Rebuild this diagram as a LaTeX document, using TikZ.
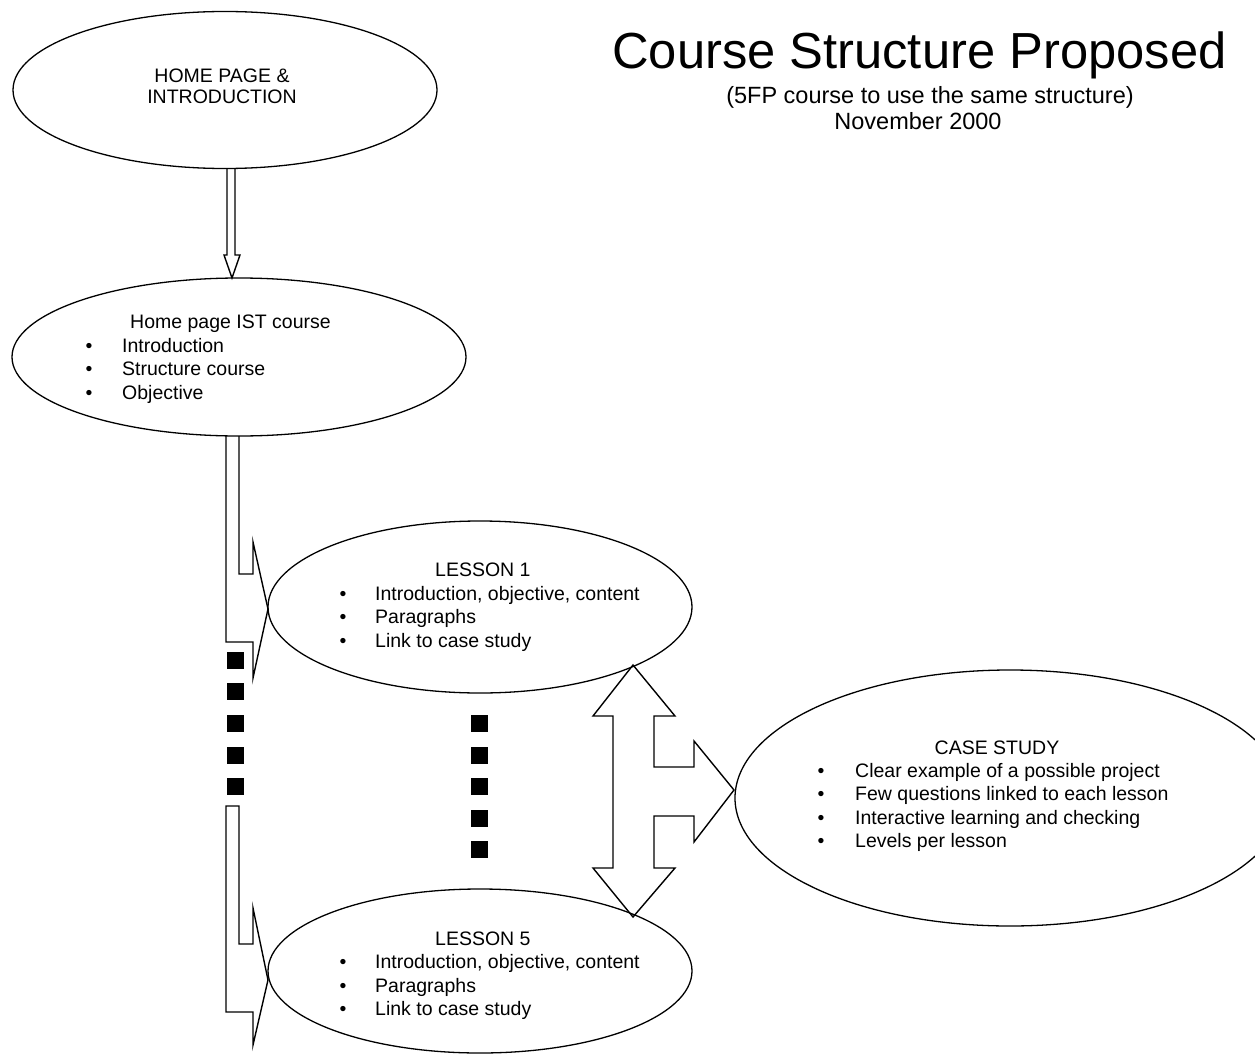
\documentclass[tikz,border=0pt]{standalone}
\usepackage{fontspec}
\setmainfont{Liberation Sans}
\usetikzlibrary{shapes.geometric}
\begin{document}
\begin{tikzpicture}[x=1pt,y=-1pt,
  bubble/.style={draw, ellipse, line width=1.3pt, inner sep=0pt},
  txt/.style={font=\fontsize{19.5}{23}\selectfont, inner sep=0pt},
  itm/.style={txt, anchor=base west},
  ctr/.style={txt, anchor=base},
  blk/.style={draw, line width=1.4pt, line join=miter},
  sq/.style={fill=black}]
\useasboundingbox (0,0) rectangle (1255,1054);
\clip (0,0) rectangle (1255,1054);

% ellipses
\node[bubble, minimum width=424pt, minimum height=157pt] (home) at (225,90) {};
\node[bubble, minimum width=454pt, minimum height=158pt] (ist) at (239,357) {};
\node[bubble, minimum width=424pt, minimum height=172pt] (les1) at (480,607) {};
\node[bubble, minimum width=424pt, minimum height=164pt] (les5) at (480,971) {};
\node[bubble, minimum width=550pt, minimum height=256pt] (case) at (1010,798) {};

% title
\node[font=\fontsize{50.7}{60}\selectfont, anchor=base west, inner sep=0pt] (title) at (612,69) {Course Structure Proposed};
\node[font=\fontsize{23.5}{28}\selectfont, anchor=base, inner sep=0pt] (sub) at (930,104) {(5FP course to use the same structure)};
\node[font=\fontsize{23.5}{28}\selectfont, anchor=base, inner sep=0pt] (date) at (918,129) {November 2000};

% home page text
\node[ctr] (h1) at (222,83) {HOME PAGE \&};
\node[ctr] (h2) at (222,104) {INTRODUCTION};

% IST course
\node[itm] (i0) at (130,328) {Home page IST course};
\node[ctr] (ib1) at (89,352) {•};
\node[itm] (i1) at (122,352) {Introduction};
\node[ctr] (ib2) at (89,375) {•};
\node[itm] (i2) at (122,375) {Structure course};
\node[ctr] (ib3) at (89,399) {•};
\node[itm] (i3) at (122,399) {Objective};

% lesson 1
\node[itm] (a0) at (435,576) {LESSON 1};
\node[ctr] (ab1) at (343,600) {•};
\node[itm] (a1) at (375,600) {Introduction, objective, content};
\node[ctr] (ab2) at (343,623) {•};
\node[itm] (a2) at (375,623) {Paragraphs};
\node[ctr] (ab3) at (343,647) {•};
\node[itm] (a3) at (375,647) {Link to case study};

% lesson 5
\node[itm] (b0) at (435,945) {LESSON 5};
\node[ctr] (bb1) at (343,968) {•};
\node[itm] (b1) at (375,968) {Introduction, objective, content};
\node[ctr] (bb2) at (343,992) {•};
\node[itm] (b2) at (375,992) {Paragraphs};
\node[ctr] (bb3) at (343,1015) {•};
\node[itm] (b3) at (375,1015) {Link to case study};

% case study
\node[ctr] (c0) at (997,754) {CASE STUDY};
\node[ctr] (cb1) at (821,777) {•};
\node[itm] (c1) at (855,777) {Clear example of a possible project};
\node[ctr] (cb2) at (821,800) {•};
\node[itm] (c2) at (855,800) {Few questions linked to each lesson};
\node[ctr] (cb3) at (821,824) {•};
\node[itm] (c3) at (855,824) {Interactive learning and checking};
\node[ctr] (cb4) at (821,847) {•};
\node[itm] (c4) at (855,847) {Levels per lesson};

% block arrows
\draw[blk] (227,169) -- (227,255) -- (224,255) -- (232,278) -- (240,255) -- (235,255) -- (235,169);
\draw[blk] (239,436) -- (239,574) -- (253,574) -- (253,542) -- (268,609) -- (253,678) -- (253,642) -- (226,642) -- (226,436);
\draw[blk] (226,806) -- (226,1012) -- (253,1012) -- (253,1045) -- (268,980) -- (253,908) -- (253,944) -- (239,944) -- (239,806) -- cycle;
\draw[blk] (633,665) -- (675,716) -- (654,716) -- (654,767) -- (694,767) -- (694,741) -- (734,790) -- (694,842) -- (694,816) -- (654,816) -- (654,868) -- (675,868) -- (633,917) -- (593,868) -- (613,868) -- (613,716) -- (593,716) -- cycle;

% squares
\foreach \yy in {652,683,715,747,778} \fill[sq] (227,\yy) rectangle +(17,17);
\foreach \yy in {715,747,778,810,841} \fill[sq] (471,\yy) rectangle +(17,17);
\end{tikzpicture}
\end{document}
